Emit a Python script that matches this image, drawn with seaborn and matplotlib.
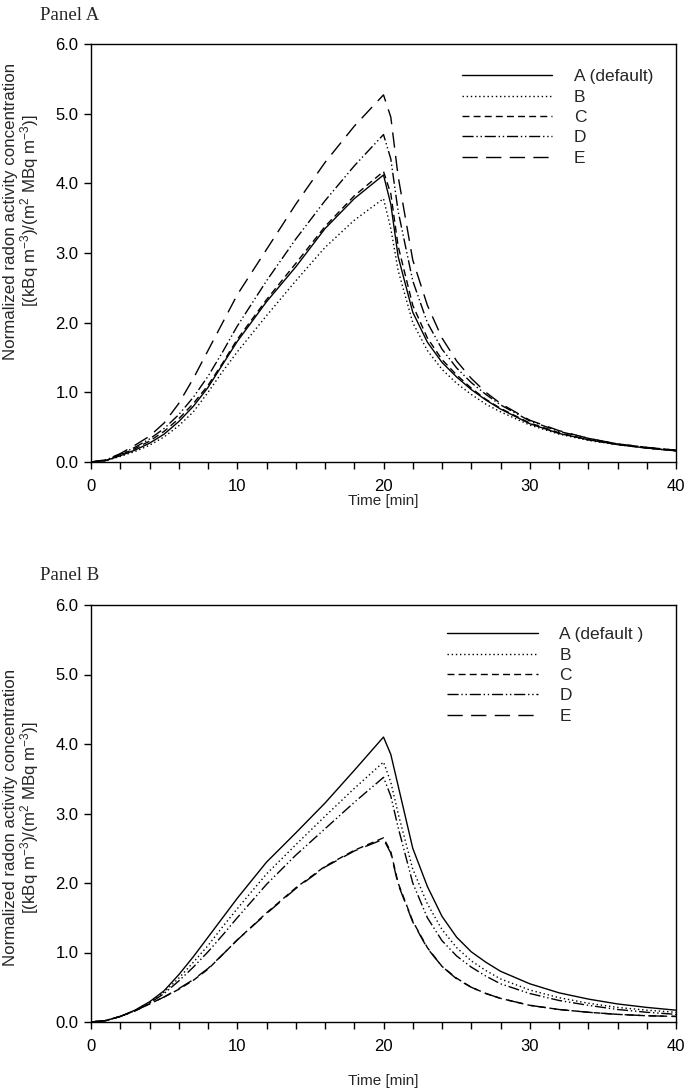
import numpy as np
import pandas as pd
import matplotlib
matplotlib.use("Agg")
import matplotlib.pyplot as plt
from matplotlib.ticker import MultipleLocator, FormatStrFormatter
import seaborn as sns

# time axis [min]
t = [0, 1, 2, 3, 4, 5, 6, 7, 8, 9, 10, 12, 14, 16, 18, 20, 20.5, 21, 22, 23,
     24, 25, 26, 27, 28, 30, 32, 34, 36, 38, 40]

# Panel A curves
a_A = [0, 0.02, 0.09, 0.17, 0.27, 0.4, 0.58, 0.8, 1.07, 1.4, 1.73, 2.3, 2.8, 3.35, 3.78, 4.12,
       3.7, 2.95, 2.15, 1.72, 1.43, 1.22, 1.04, 0.89, 0.76, 0.55, 0.41, 0.32, 0.25, 0.2, 0.16]
a_B = [0, 0.02, 0.08, 0.15, 0.24, 0.36, 0.52, 0.72, 1.0, 1.3, 1.58, 2.1, 2.6, 3.08, 3.47, 3.78,
       3.35, 2.75, 2.0, 1.6, 1.33, 1.13, 0.97, 0.83, 0.72, 0.53, 0.4, 0.31, 0.25, 0.2, 0.16]
a_C = [0, 0.02, 0.1, 0.19, 0.3, 0.44, 0.62, 0.84, 1.1, 1.42, 1.76, 2.33, 2.85, 3.38, 3.82, 4.17,
       3.85, 3.1, 2.25, 1.78, 1.47, 1.25, 1.06, 0.9, 0.77, 0.56, 0.42, 0.32, 0.25, 0.2, 0.16]
a_D = [0, 0.03, 0.11, 0.21, 0.33, 0.48, 0.68, 0.93, 1.23, 1.58, 1.95, 2.6, 3.2, 3.75, 4.25, 4.7,
       4.35, 3.6, 2.6, 2.0, 1.62, 1.35, 1.14, 0.97, 0.82, 0.59, 0.44, 0.34, 0.26, 0.21, 0.17]
a_E = [0, 0.03, 0.12, 0.24, 0.37, 0.56, 0.84, 1.2, 1.6, 2.0, 2.4, 3.05, 3.7, 4.3, 4.82, 5.27,
       4.95, 4.1, 2.9, 2.25, 1.78, 1.45, 1.2, 1.0, 0.84, 0.6, 0.45, 0.34, 0.26, 0.21, 0.17]

# Panel B curves
b_A = [0, 0.02, 0.08, 0.17, 0.29, 0.45, 0.68, 0.94, 1.22, 1.5, 1.78, 2.3, 2.72, 3.15, 3.62, 4.1,
       3.85, 3.4, 2.5, 1.95, 1.52, 1.22, 1.01, 0.86, 0.73, 0.55, 0.42, 0.33, 0.26, 0.21, 0.17]
b_B = [0, 0.02, 0.08, 0.16, 0.28, 0.43, 0.63, 0.86, 1.1, 1.37, 1.63, 2.13, 2.55, 2.96, 3.36, 3.74,
       3.45, 3.0, 2.2, 1.7, 1.33, 1.07, 0.88, 0.74, 0.62, 0.46, 0.35, 0.27, 0.21, 0.17, 0.14]
b_C = [0, 0.02, 0.08, 0.16, 0.26, 0.36, 0.47, 0.6, 0.76, 0.97, 1.18, 1.57, 1.93, 2.24, 2.47, 2.65,
       2.45, 2.0, 1.45, 1.07, 0.8, 0.63, 0.5, 0.41, 0.34, 0.24, 0.18, 0.14, 0.11, 0.09, 0.08]
b_D = [0, 0.02, 0.08, 0.16, 0.27, 0.41, 0.59, 0.79, 1.01, 1.25, 1.5, 1.98, 2.4, 2.78, 3.16, 3.52,
       3.25, 2.8, 2.0, 1.5, 1.17, 0.95, 0.79, 0.66, 0.55, 0.41, 0.31, 0.24, 0.18, 0.14, 0.11]
b_E = [0, 0.02, 0.08, 0.16, 0.26, 0.36, 0.48, 0.61, 0.77, 0.97, 1.18, 1.56, 1.92, 2.23, 2.46, 2.63,
       2.43, 1.98, 1.44, 1.06, 0.8, 0.62, 0.5, 0.41, 0.34, 0.24, 0.18, 0.14, 0.11, 0.09, 0.08]

cases = ["A", "B", "C", "D", "E"]
labels_a = ["A (default)", "B", "C", "D", "E"]
labels_b = ["A (default )", "B", "C", "D", "E"]

dash_map = {"A": "", "B": (1, 2), "C": (5, 3), "D": (8, 2, 1, 2, 1, 2), "E": (11, 6)}

sns.set_style("ticks")
plt.rcParams['font.family'] = ['Liberation Sans', 'DejaVu Sans']
plt.rcParams['mathtext.fontset'] = 'custom'
plt.rcParams['mathtext.rm'] = 'Liberation Sans'
plt.rcParams['mathtext.it'] = 'Liberation Sans'


def make_df(series):
    rows = []
    for c, vals in zip(cases, series):
        for ti, v in zip(t, vals):
            rows.append((ti, v, c))
    return pd.DataFrame(rows, columns=["time", "conc", "case"])


fig = plt.figure(figsize=(6.85, 10.89), dpi=100)
axA = fig.add_axes([91/685, 1-462/1089, 585/685, 418/1089])
axB = fig.add_axes([91/685, 1-1022/1089, 585/685, 417/1089])

# (axes, curves, legend labels, panel title, title y px, legend anchor, ylabel centre, xlabel pad)
panels = [(axA, [a_A, a_B, a_C, a_D, a_E], labels_a, "Panel A", 15, (0.634, 0.940), 0.6, 0.5),
          (axB, [b_A, b_B, b_C, b_D, b_E], labels_b, "Panel B", 576, (0.609, 0.947), 0.49, 14.5)]

for ax, series, labs, title, ty, lpos, ly, xpad in panels:
    df = make_df(series)
    sns.lineplot(data=df, x="time", y="conc", style="case", dashes=dash_map,
                 color="black", linewidth=1.0, ax=ax, legend=False)
    ax.set_xlim(0, 40)
    ax.set_ylim(0, 6)
    ax.xaxis.set_major_locator(MultipleLocator(10))
    ax.xaxis.set_minor_locator(MultipleLocator(2))
    ax.yaxis.set_major_locator(MultipleLocator(1))
    ax.yaxis.set_major_formatter(FormatStrFormatter('%.1f'))
    ax.tick_params(which='both', direction='out', length=5, width=1, labelsize=12,
                   colors='black')
    ax.tick_params(axis='x', pad=7)
    ax.tick_params(axis='y', pad=4)
    for s in ax.spines.values():
        s.set_linewidth(1.0)
        s.set_color('black')
    ax.set_xlabel("Time [min]", fontsize=11, labelpad=xpad)
    ax.set_ylabel("Normalized radon activity concentration\n"
                  r"[(kBq m$^{-3}$)/(m$^{2}$ MBq m$^{-3}$)]", fontsize=12.2, linespacing=1.05)
    ax.yaxis.set_label_coords(-0.085, ly)
    ax.legend(ax.lines[:5], labs, loc="upper left", bbox_to_anchor=lpos, frameon=False,
              fontsize=12.5, handlelength=5.2, handletextpad=1.25, labelspacing=0.3,
              borderaxespad=0, borderpad=0)
    fig.text(40/685, 1-ty/1089, title, fontsize=13.5, family='Liberation Serif', va='center')

fig.savefig("out.png", dpi=100)
